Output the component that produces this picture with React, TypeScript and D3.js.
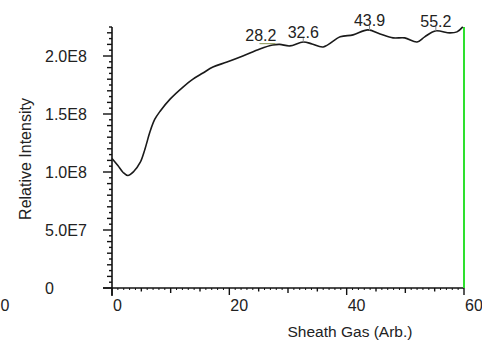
import React from "react";
import * as d3 from "d3";

const sheathGas = [0, 1.0, 1.9, 2.7, 3.7, 4.8, 5.6, 6.5, 7.3, 8.2, 9.9, 12.1, 13.8, 15.5, 17.2, 19.6, 22.3, 25.2, 27.4, 28.6, 30.3, 32.6, 34.1, 36.0, 38.9, 41.1, 43.6, 45.7, 47.9, 49.9, 52.0, 53.3, 55.1, 57.6, 58.8, 59.8];
const intensity = [1.117e8, 1.056e8, 0.996e8, 0.97e8, 1.004e8, 1.082e8, 1.195e8, 1.351e8, 1.455e8, 1.524e8, 1.628e8, 1.732e8, 1.801e8, 1.853e8, 1.905e8, 1.948e8, 2.0e8, 2.061e8, 2.095e8, 2.1e8, 2.087e8, 2.121e8, 2.104e8, 2.078e8, 2.165e8, 2.182e8, 2.225e8, 2.19e8, 2.156e8, 2.156e8, 2.121e8, 2.165e8, 2.216e8, 2.199e8, 2.208e8, 2.251e8];
const peakLabels = [28.2, 32.6, 43.9, 55.2];
const yTickValues = [0, 5e7, 1e8, 1.5e8, 2e8];
const yTickLabels = ["0", "5.0E7", "1.0E8", "1.5E8", "2.0E8"];
const xTickValues = [0, 20, 40, 60];
const xTickLabels = ["0", "20", "40", "60"];

const W = 482;
const H = 341;
const FONT = "'Liberation Sans', Arial, sans-serif";

export default function App() {
  const x = d3.scaleLinear().domain([0, 60]).range([112, 464]);
  const y = d3.scaleLinear().domain([0, 2.25e8]).range([288, 27]);
  const pts: [number, number][] = sheathGas.map((g, i) => [g, intensity[i]]);
  const line = d3
    .line<[number, number]>()
    .x((d) => x(d[0]))
    .y((d) => y(d[1]))
    .curve(d3.curveCatmullRom.alpha(0.5));
  const interp = (g: number) => {
    const i = Math.max(1, d3.bisectLeft(sheathGas, g));
    const g0 = sheathGas[i - 1], g1 = sheathGas[i];
    const t = (g - g0) / (g1 - g0);
    return intensity[i - 1] + t * (intensity[i] - intensity[i - 1]);
  };
  const yMinor = d3.range(0, 2.25e8 + 1, 5e6);
  const xMinor = d3.range(0, 61, 1);
  const last = pts[pts.length - 1];

  return (
    <svg
      width={W}
      height={H}
      style={{ position: "fixed", left: 0, top: 0, background: "#fff" }}
      fontFamily={FONT}
    >
      <rect width={W} height={H} fill="#fff" />
      {/* y axis ticks */}
      {yMinor.map((v, i) => {
        const major = Math.abs(v % 5e7) < 1 || Math.abs((v % 5e7) - 5e7) < 1;
        const mid = i % 2 === 0;
        const len = major ? 9 : mid ? 5 : 3;
        return (
          <line key={"yt" + i} x1={x(0) - len} x2={x(0)} y1={y(v)} y2={y(v)} stroke="#111" strokeWidth={1.4} />
        );
      })}
      {/* x axis ticks */}
      {xMinor.map((v) => {
        const len = v % 20 === 0 ? 7 : v % 10 === 0 ? 5 : v % 5 === 0 ? 3.5 : 2;
        return (
          <line key={"xt" + v} x1={x(v)} x2={x(v)} y1={y(0)} y2={y(0) + len} stroke="#111" strokeWidth={v % 5 === 0 ? 1.4 : 1} />
        );
      })}
      {/* axis lines */}
      <line x1={x(0)} x2={x(0)} y1={y(2.25e8)} y2={y(0) + 8} stroke="#111" strokeWidth={1.6} />
      <line x1={x(0) - 9} x2={x(60)} y1={y(0)} y2={y(0)} stroke="#111" strokeWidth={1.4} />
      {/* green marker line */}
      <line x1={x(60)} x2={x(60)} y1={y(0)} y2={y(last[1])} stroke="#2ee02e" strokeWidth={2} />
      {/* curve */}
      <path d={line(pts) || ""} fill="none" stroke="#1a1a1a" strokeWidth={1.6} />
      {/* peak labels */}
      {peakLabels.map((p, i) => {
        const py = y(interp(p));
        const first = i === 0;
        return (
          <g key={"pk" + i}>
            {first ? (
              <line x1={x(p) - 18} x2={x(p) - 2} y1={py - 1} y2={py - 1} stroke="#9aa56a" strokeWidth={1.2} />
            ) : (
              <line x1={x(p)} x2={x(p)} y1={py - 5} y2={py} stroke="#8a8a8a" strokeWidth={1} />
            )}
            <text
              x={first ? x(p) - 1 : x(p)}
              y={py - 4}
              textAnchor={first ? "end" : "middle"}
              fontSize={16}
              fill="#222"
            >
              {p.toFixed(1)}
            </text>
          </g>
        );
      })}
      {/* y tick labels */}
      {yTickValues.map((v, i) => (
        <text key={"yl" + i} x={45} y={y(v) + 6} fontSize={16} fill="#222">
          {yTickLabels[i]}
        </text>
      ))}
      {/* x tick labels */}
      {xTickValues.map((v, i) => (
        <text key={"xl" + i} x={x(v) + 1} y={311} fontSize={16} fill="#222">
          {xTickLabels[i]}
        </text>
      ))}
      <text x={0.5} y={311} fontSize={16} fill="#222">0</text>
      {/* axis titles */}
      <text x={350} y={337} textAnchor="middle" fontSize={15.5} fill="#222">
        Sheath Gas (Arb.)
      </text>
      <text
        transform={`translate(31,159) rotate(-90)`}
        textAnchor="middle"
        fontSize={16}
        fill="#222"
      >
        Relative Intensity
      </text>
    </svg>
  );
}
